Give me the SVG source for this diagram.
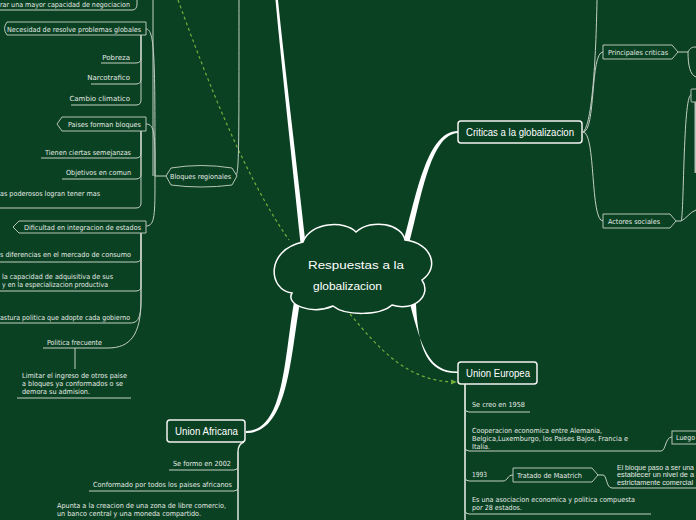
<svg xmlns="http://www.w3.org/2000/svg" width="696" height="520" viewBox="0 0 696 520">
<defs>
<style>
.t{font-family:"DejaVu Sans","Liberation Sans",sans-serif;font-size:7px;fill:#e3ebe3}
.tn{font-family:"Liberation Sans","DejaVu Sans",sans-serif;font-size:6.3px;fill:#e3ebe3}
.tm{font-family:"Liberation Sans","DejaVu Sans",sans-serif;font-size:11px;fill:#ffffff}
.ln{fill:none;stroke:#c3cfc3;stroke-width:1}
.tr{fill:none;stroke:#e8eee8;stroke-width:1.4}
.bx{fill:#0b4123;stroke:#b7c5b7;stroke-width:1}
.mb{fill:#0b4123;stroke:#f2f2f2;stroke-width:1.5}
.br{fill:#ffffff;stroke:none}
.dash{fill:none;stroke:#72ad3c;stroke-width:1.2;stroke-dasharray:3 3}
</style>
<marker id="arr" viewBox="0 0 6 6" refX="5" refY="3" markerWidth="6" markerHeight="6" orient="auto" markerUnits="userSpaceOnUse">
<path d="M0,0.5 L6,3 L0,5.5 Z" fill="#72ad3c"/>
</marker>
</defs>
<rect x="0" y="0" width="696" height="520" fill="#0b4123"/>

<g id="connectors">
<path class="br" d="M300.5,243 C293,170 281,60 275.5,0 L278,0 C284,60 297.5,170 305.5,243 Z"/>
<path class="br" d="M402,247 C416,198 426,131 458,131 L458,133 C430,134 421,200 408,248 Z"/>
<path class="br" d="M410,304 C422,350 430,372 458,371.5 L458,373 C428,374 418,350 416,304 Z"/>
<path class="br" d="M294,302 C284,360 284,431 246,431 L246,433 C288,433 290,360 300,302 Z"/>
<path class="dash" d="M178,0 C200,60 240,170 289,240"/>
<path class="dash" d="M350,314 C380,350 408,382 456,382" marker-end="url(#arr)"/>

<path class="ln" d="M236,176 C239,170 239,150 239,0"/>
<path class="ln" d="M166,176 H155"/>
<path class="ln" d="M153,0 V176"/>
<path class="ln" d="M155,176 C155,215 155,226 146,226"/>
<path class="ln" d="M155,176 C155,135 155,124 146,124"/>
<path class="ln" d="M155,176 C155,60 155,29 146,29"/>
<path class="ln" d="M0,10 H132 Q137,10 137,4 V0"/>
<path class="ln" d="M141,35 V58 Q141,63 136,63 H101"/>
<path class="ln" d="M141,35 V79 Q141,84 136,84 H91"/>
<path class="ln" d="M141,35 V100 Q141,105 136,105 H71"/>
<path class="ln" d="M141,131 V153 Q141,158 136,158 H41"/>
<path class="ln" d="M141,131 V174 Q141,179 136,179 H62"/>
<path class="ln" d="M141,131 V203 Q141,208 136,208 H0"/>
<path class="ln" d="M141,233 V257 Q141,262 136,262 H0"/>
<path class="ln" d="M141,233 V286 Q141,291 136,291 H0"/>
<path class="ln" d="M141,233 V300 C141,318 138,323 130,323 H0"/>
<path class="ln" d="M141,233 V300 C141,335 130,348 108,348 H43"/>
<path class="ln" d="M75,348 V369"/>
<path class="ln" d="M17,398 H131"/>

<path class="tr" d="M244,442 Q238,444 238,452 V520"/>
<path class="ln" d="M238,452 V466 Q238,470 234,470 H169"/>
<path class="ln" d="M238,452 V487 Q238,491 234,491 H89"/>

<path class="ln" d="M597,0 C596,60 592,125 583,132"/>
<path class="ln" d="M583,132 C596,132 590,52 603,52"/>
<path class="ln" d="M583,132 C596,132 590,221 603,221"/>
<path class="ln" d="M678,52 H688 C690,48 692,47 696,47"/>
<path class="ln" d="M688,52 C688,65 690,75 696,77"/>
<path class="ln" d="M676,221 H681 C684,221 683,95 691,95"/>
<path class="ln" d="M681,221 C686,219 690,212 696,210"/>

<path class="tr" d="M465,384 V520"/>
<path class="ln" d="M465,384 V408 Q465,412 469,412 H530"/>
<path class="ln" d="M465,384 V447 Q465,451 469,451 H661 C666,451 665,437 672,437"/>
<path class="ln" d="M465,384 V477 Q465,481 469,481 H503 C508,481 507,475 513,475"/>
<path class="ln" d="M598,475 H603 C607,475 606,488 612,488 H696"/>
<path class="ln" d="M465,384 V510 Q465,514 469,514 H651"/>
</g>

<g id="center">
<path d="M303,242 C310,222 345,220 356,232 C372,218 402,224 405,240 C432,243 440,268 422,280 C432,295 415,312 392,305 C380,316 345,316 333,306 C312,315 285,305 292,293 C268,290 265,250 303,242 Z" fill="#0b4123" stroke="#ffffff" stroke-width="1.5"/>
<text class="tm" x="308" y="269" font-size="12" textLength="96" lengthAdjust="spacingAndGlyphs">Respuestas a la</text>
<text class="tm" x="313" y="290" font-size="12" textLength="69" lengthAdjust="spacingAndGlyphs">globalizacion</text>
</g>

<g id="node-negociacion">
<text class="t" x="0" y="6.5" textLength="130" lengthAdjust="spacingAndGlyphs">rar una mayor capacidad de negociacion</text>
</g>
<g id="node-necesidad">
<path class="bx" d="M7,22 H146 V35 H7 Q2,28.5 7,22 Z"/>
<text class="t" x="7" y="31.5" textLength="134" lengthAdjust="spacingAndGlyphs">Necesidad de resolve problemas globales</text>
</g>
<g id="node-pobreza"><text class="t" x="130" y="59.5" text-anchor="end">Pobreza</text></g>
<g id="node-narcotrafico"><text class="t" x="130" y="80" text-anchor="end">Narcotrafico</text></g>
<g id="node-cambio"><text class="t" x="130" y="101" text-anchor="end">Cambio climatico</text></g>

<g id="node-paises">
<path class="bx" d="M57,124 L62,117 H146 V131 H62 Z"/>
<text class="t" x="68" y="126.5" textLength="73" lengthAdjust="spacingAndGlyphs">Paises forman bloques</text>
</g>
<g id="node-semejanzas"><text class="t" x="45" y="154.5" textLength="86" lengthAdjust="spacingAndGlyphs">Tienen ciertas semejanzas</text></g>
<g id="node-objetivos"><text class="t" x="66" y="174.5" textLength="65" lengthAdjust="spacingAndGlyphs">Objetivos en comun</text></g>
<g id="node-poderosos"><text class="t" x="0" y="195.5" textLength="100" lengthAdjust="spacingAndGlyphs">as poderosos logran tener mas</text></g>

<g id="node-bloques">
<path class="bx" d="M166,176 L171,168 Q201,163 232,168 L237,176 L232,185 Q201,189 171,185 Z"/>
<text class="t" x="170" y="178.5" textLength="61" lengthAdjust="spacingAndGlyphs">Bloques regionales</text>
</g>

<g id="node-dificultad">
<path class="bx" d="M13,227 L19,221 H146 V233 H19 Z"/>
<text class="t" x="24" y="229.5" textLength="117" lengthAdjust="spacingAndGlyphs">Dificultad en integracion de estados</text>
</g>
<g id="node-diferencias"><text class="t" x="0" y="256.5" textLength="131" lengthAdjust="spacingAndGlyphs">s diferencias en el mercado de consumo</text></g>
<g id="node-capacidad">
<text class="t" x="2" y="278.5" textLength="111" lengthAdjust="spacingAndGlyphs">la capacidad de adquisitiva de sus</text>
<text class="t" x="2" y="286.5" textLength="106" lengthAdjust="spacingAndGlyphs">y en la especializacion productiva</text>
</g>
<g id="node-postura"><text class="t" x="0" y="319.5" textLength="130" lengthAdjust="spacingAndGlyphs">astura politica que adopte cada gobierno</text></g>
<g id="node-politica"><text class="t" x="47" y="344.5" textLength="55" lengthAdjust="spacingAndGlyphs">Politica frecuente</text></g>
<g id="node-limitar">
<text class="t" x="22" y="377.5" textLength="105" lengthAdjust="spacingAndGlyphs">Limitar el ingreso de otros paise</text>
<text class="t" x="22" y="385.5" textLength="101" lengthAdjust="spacingAndGlyphs">a bloques ya conformados o se</text>
<text class="t" x="22" y="394" textLength="68" lengthAdjust="spacingAndGlyphs">demora su admision.</text>
</g>

<g id="node-africana">
<rect class="mb" x="167" y="420" width="78" height="22" rx="3"/>
<text class="tm" x="175" y="435" textLength="63" lengthAdjust="spacingAndGlyphs">Union Africana</text>
</g>
<g id="node-2002"><text class="t" x="173" y="465.5" textLength="58" lengthAdjust="spacingAndGlyphs">Se formo en 2002</text></g>
<g id="node-conformado"><text class="t" x="93" y="486.5" textLength="139" lengthAdjust="spacingAndGlyphs">Conformado por todos los paises africanos</text></g>
<g id="node-apunta">
<text class="t" x="57" y="508" textLength="169" lengthAdjust="spacingAndGlyphs">Apunta a la creacion de una zona de libre comercio,</text>
<text class="t" x="57" y="516" textLength="144" lengthAdjust="spacingAndGlyphs">un banco central y una moneda compartido.</text>
</g>

<g id="node-criticas">
<rect class="mb" x="458" y="121" width="124" height="22" rx="3"/>
<text class="tm" x="466" y="136" textLength="108" lengthAdjust="spacingAndGlyphs">Criticas a la globalizacion</text>
</g>
<g id="node-principales">
<path class="bx" d="M603,45 H672 L678,52 L672,59 H603 Z"/>
<text class="t" x="608" y="54.5" textLength="60" lengthAdjust="spacingAndGlyphs">Principales criticas</text>
</g>
<g id="node-actores">
<path class="bx" d="M603,214 H670 L676,221 L670,228 H603 Z"/>
<text class="t" x="608" y="223.5" textLength="52" lengthAdjust="spacingAndGlyphs">Actores sociales</text>
</g>
<g id="node-right-partial">
<rect class="bx" x="691" y="89" width="10" height="13" rx="1"/>
<rect x="694.5" y="102" width="2" height="71" fill="#b9c3b9"/>
</g>

<g id="node-europea">
<rect class="mb" x="458" y="362" width="79" height="22" rx="3"/>
<text class="tm" x="466" y="376.5" textLength="64" lengthAdjust="spacingAndGlyphs">Union Europea</text>
</g>
<g id="node-1958"><text class="t" x="472" y="406.5" textLength="53" lengthAdjust="spacingAndGlyphs">Se creo en 1958</text></g>
<g id="node-cooperacion">
<text class="t" x="472" y="432.5" textLength="130" lengthAdjust="spacingAndGlyphs">Cooperacion economica entre Alemania,</text>
<text class="t" x="472" y="440.5" textLength="156" lengthAdjust="spacingAndGlyphs">Belgica,Luxemburgo, los Paises Bajos, Francia e</text>
<text class="t" x="472" y="448.5" textLength="18" lengthAdjust="spacingAndGlyphs">Italia.</text>
</g>
<g id="node-luego">
<rect class="bx" x="672" y="431" width="30" height="13"/>
<text class="t" x="676" y="440" textLength="19" lengthAdjust="spacingAndGlyphs">Luego</text>
</g>
<g id="node-1993"><text class="t" x="472" y="476.5" textLength="15" lengthAdjust="spacingAndGlyphs">1993</text></g>
<g id="node-tratado">
<path class="bx" d="M513,468 H592 L598,475 L592,482 H513 Z"/>
<text class="t" x="517" y="477.5" textLength="65" lengthAdjust="spacingAndGlyphs">Tratado de Maatrich</text>
</g>
<g id="node-bloque-paso">
<text class="tn" x="617" y="469.5" textLength="77" lengthAdjust="spacingAndGlyphs">El bloque paso a ser una</text>
<text class="tn" x="617" y="477" textLength="77" lengthAdjust="spacingAndGlyphs">establecer un nivel de a</text>
<text class="tn" x="617" y="484.5" textLength="76" lengthAdjust="spacingAndGlyphs">estrictamente comercial</text>
</g>
<g id="node-asociacion">
<text class="t" x="472" y="501.5" textLength="163" lengthAdjust="spacingAndGlyphs">Es una asociacion economica y politica compuesta</text>
<text class="t" x="472" y="509.5" textLength="50" lengthAdjust="spacingAndGlyphs">por 28 estados.</text>
</g>
</svg>
